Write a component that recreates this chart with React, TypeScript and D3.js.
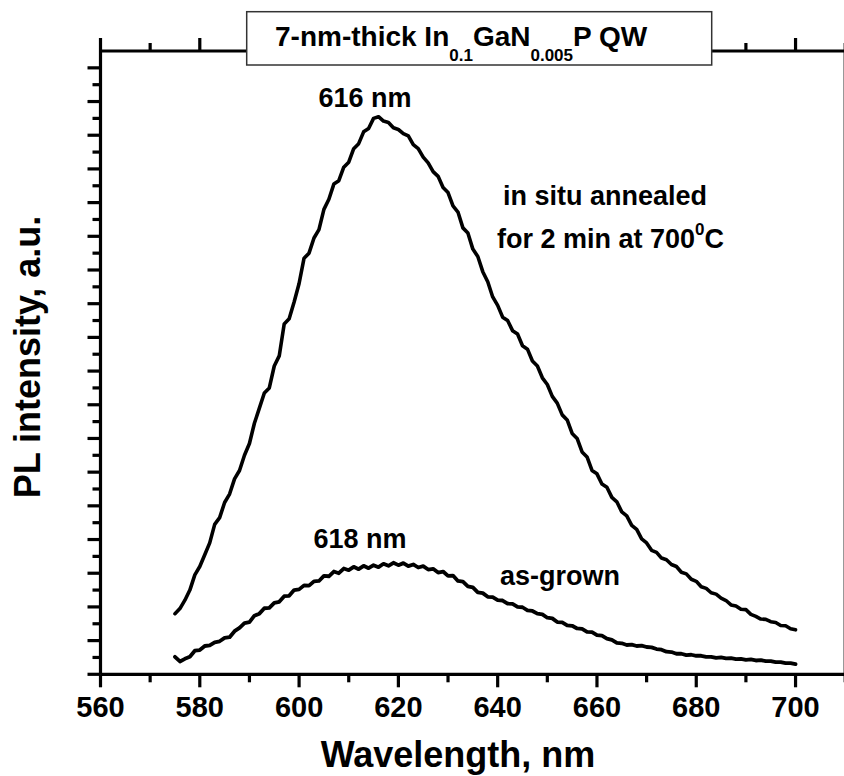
import React from 'react';
import * as d3 from 'd3';

const W = 844;
const H = 776;

const wavelengthStart = 575; // nm, 1 nm steps
const annealed = [
  1.80, 1.95, 2.20, 2.50, 2.95, 3.20, 3.55, 3.90, 4.45, 4.65,
  5.10, 5.35, 5.80, 6.05, 6.50, 6.85, 7.45, 7.90, 8.35, 8.50,
  9.15, 9.45, 10.40, 10.55, 11.05, 11.60, 12.35, 12.50, 12.95, 13.20,
  13.80, 14.10, 14.55, 14.65, 15.05, 15.20, 15.60, 15.75, 16.10, 16.20,
  16.50, 16.55, 16.42, 16.38, 16.22, 16.17, 16.05, 15.98, 15.72, 15.60,
  15.35, 15.18, 14.92, 14.78, 14.45, 14.30, 13.90, 13.72, 13.25, 13.10,
  12.62, 12.40, 11.95, 11.65, 11.20, 10.95, 10.60, 10.50, 10.20, 10.10,
  9.75, 9.65, 9.30, 9.15, 8.80, 8.60, 8.25, 8.05, 7.70, 7.55,
  7.15, 7.00, 6.60, 6.45, 6.05, 5.95, 5.65, 5.55, 5.25, 5.12,
  4.82, 4.70, 4.42, 4.30, 4.02, 3.90, 3.68, 3.62, 3.45, 3.40,
  3.26, 3.20, 3.03, 2.98, 2.82, 2.76, 2.60, 2.55, 2.42, 2.38,
  2.26, 2.19, 2.06, 2.03, 1.93, 1.92, 1.78, 1.72, 1.64, 1.63,
  1.56, 1.54, 1.45, 1.44, 1.35, 1.32,
];
const asGrown = [
  0.52, 0.38, 0.46, 0.52, 0.70, 0.72, 0.84, 0.86, 0.95, 0.98,
  1.08, 1.10, 1.28, 1.38, 1.52, 1.55, 1.74, 1.80, 1.96, 1.97,
  2.12, 2.15, 2.32, 2.33, 2.50, 2.52, 2.64, 2.63, 2.76, 2.77,
  2.92, 2.91, 3.05, 3.00, 3.14, 3.09, 3.19, 3.12, 3.22, 3.15,
  3.24, 3.18, 3.28, 3.22, 3.31, 3.24, 3.30, 3.21, 3.26, 3.17,
  3.21, 3.11, 3.13, 3.02, 3.05, 2.92, 2.93, 2.77, 2.75, 2.61,
  2.58, 2.43, 2.41, 2.30, 2.29, 2.20, 2.19, 2.10, 2.09, 2.00,
  1.99, 1.90, 1.88, 1.80, 1.78, 1.68, 1.66, 1.55, 1.54, 1.45,
  1.44, 1.36, 1.35, 1.26, 1.25, 1.16, 1.15, 1.06, 1.02, 0.93,
  0.92, 0.87, 0.88, 0.84, 0.85, 0.81, 0.80, 0.75, 0.73, 0.67,
  0.66, 0.61, 0.61, 0.57, 0.58, 0.55, 0.55, 0.52, 0.52, 0.49,
  0.50, 0.47, 0.48, 0.45, 0.46, 0.43, 0.44, 0.41, 0.42, 0.39,
  0.39, 0.36, 0.36, 0.33, 0.33, 0.30,
];

const xMajorTicks = [560, 580, 600, 620, 640, 660, 680, 700];
const xMinorTicks = [570, 590, 610, 630, 650, 670, 690, 710];
const yMajorTicks = [0, 1, 2, 3, 4, 5, 6, 7, 8, 9, 10, 11, 12, 13, 14, 15, 16, 17, 18];
const yMinorTicks = [0.5, 1.5, 2.5, 3.5, 4.5, 5.5, 6.5, 7.5, 8.5, 9.5, 10.5, 11.5, 12.5, 13.5, 14.5, 15.5, 16.5, 17.5];

const FONT = "'Liberation Sans', Arial, Helvetica, sans-serif";

export default function App() {
  const x = d3.scaleLinear().domain([560, 710]).range([100.5, 845.2]);
  const y = d3.scaleLinear().domain([0, 18.5]).range([674.3, 51]);

  const toPts = (vals: number[]) => vals.map((v, i) => [wavelengthStart + i, v] as [number, number]);
  const line = d3.line<[number, number]>().x(d => x(d[0])).y(d => y(d[1]));

  const left = x(560), right = x(710), top = y(18.5), bottom = y(0);
  const axisW = 3.2;
  const majLen = 13, minLen = 8;

  return (
    <svg width={W} height={H} style={{ position: 'absolute', left: 0, top: 0, background: '#fff' }}
      fontFamily={FONT} fontWeight="bold">
      <rect x={0} y={0} width={W} height={H} fill="#fff" />
      {/* curves */}
      <path d={line(toPts(annealed)) || ''} fill="none" stroke="#000" strokeWidth={3.6} strokeLinejoin="round" strokeLinecap="round" />
      <path d={line(toPts(asGrown)) || ''} fill="none" stroke="#000" strokeWidth={3.8} strokeLinejoin="round" strokeLinecap="round" />

      {/* frame */}
      <g stroke="#000" strokeWidth={axisW}>
        <line x1={left} x2={right} y1={bottom} y2={bottom} />
        <line x1={left} x2={right} y1={top} y2={top} />
        <line x1={left} x2={left} y1={top} y2={bottom} />
        <line x1={right} x2={right} y1={top} y2={bottom} />
        {xMajorTicks.map(t => (
          <g key={'xM' + t}>
            <line x1={x(t)} x2={x(t)} y1={bottom} y2={bottom + majLen} />
            <line x1={x(t)} x2={x(t)} y1={top} y2={top - majLen} />
          </g>
        ))}
        {xMinorTicks.map(t => (
          <g key={'xm' + t}>
            <line x1={x(t)} x2={x(t)} y1={bottom} y2={bottom + minLen} />
            <line x1={x(t)} x2={x(t)} y1={top} y2={top - minLen} />
          </g>
        ))}
        {yMajorTicks.map(t => (
          <g key={'yM' + t}>
            <line x1={left} x2={left - majLen} y1={y(t)} y2={y(t)} />
            <line x1={right} x2={right + majLen} y1={y(t)} y2={y(t)} />
          </g>
        ))}
        {yMinorTicks.map(t => (
          <g key={'ym' + t}>
            <line x1={left} x2={left - minLen} y1={y(t)} y2={y(t)} />
            <line x1={right} x2={right + minLen} y1={y(t)} y2={y(t)} />
          </g>
        ))}
      </g>

      {/* x tick labels */}
      {xMajorTicks.map(t => (
        <text key={'xl' + t} x={x(t)} y={717} textAnchor="middle" fontSize={29} fill="#000">{t}</text>
      ))}

      {/* axis titles */}
      <text x={458} y={767} textAnchor="middle" fontSize={36} fill="#000">Wavelength, nm</text>
      <text transform="translate(40,357) rotate(-90)" textAnchor="middle" fontSize={36} fill="#000">PL intensity, a.u.</text>

      {/* title box */}
      <rect x={246.7} y={11.7} width={465} height={53.3} fill="#fff" stroke="#333" strokeWidth={1.5} />
      <text x={275} y={46} fontSize={28} fill="#000">
        7-nm-thick In<tspan fontSize={17} dy={15}>0.1</tspan><tspan dy={-15}>GaN</tspan><tspan fontSize={17} dy={15}>0.005</tspan><tspan dy={-15}>P QW</tspan>
      </text>

      {/* annotations */}
      <text x={365} y={107} textAnchor="middle" fontSize={27} fill="#000">616 nm</text>
      <text x={360} y={548} textAnchor="middle" fontSize={27} fill="#000">618 nm</text>
      <text x={503} y={205} fontSize={27} fill="#000">in situ annealed</text>
      <text x={497} y={248} fontSize={27} fill="#000">
        for 2 min at 700<tspan fontSize={17} dy={-13}>0</tspan><tspan dy={13}>C</tspan>
      </text>
      <text x={500} y={585} fontSize={27} fill="#000">as-grown</text>
    </svg>
  );
}
